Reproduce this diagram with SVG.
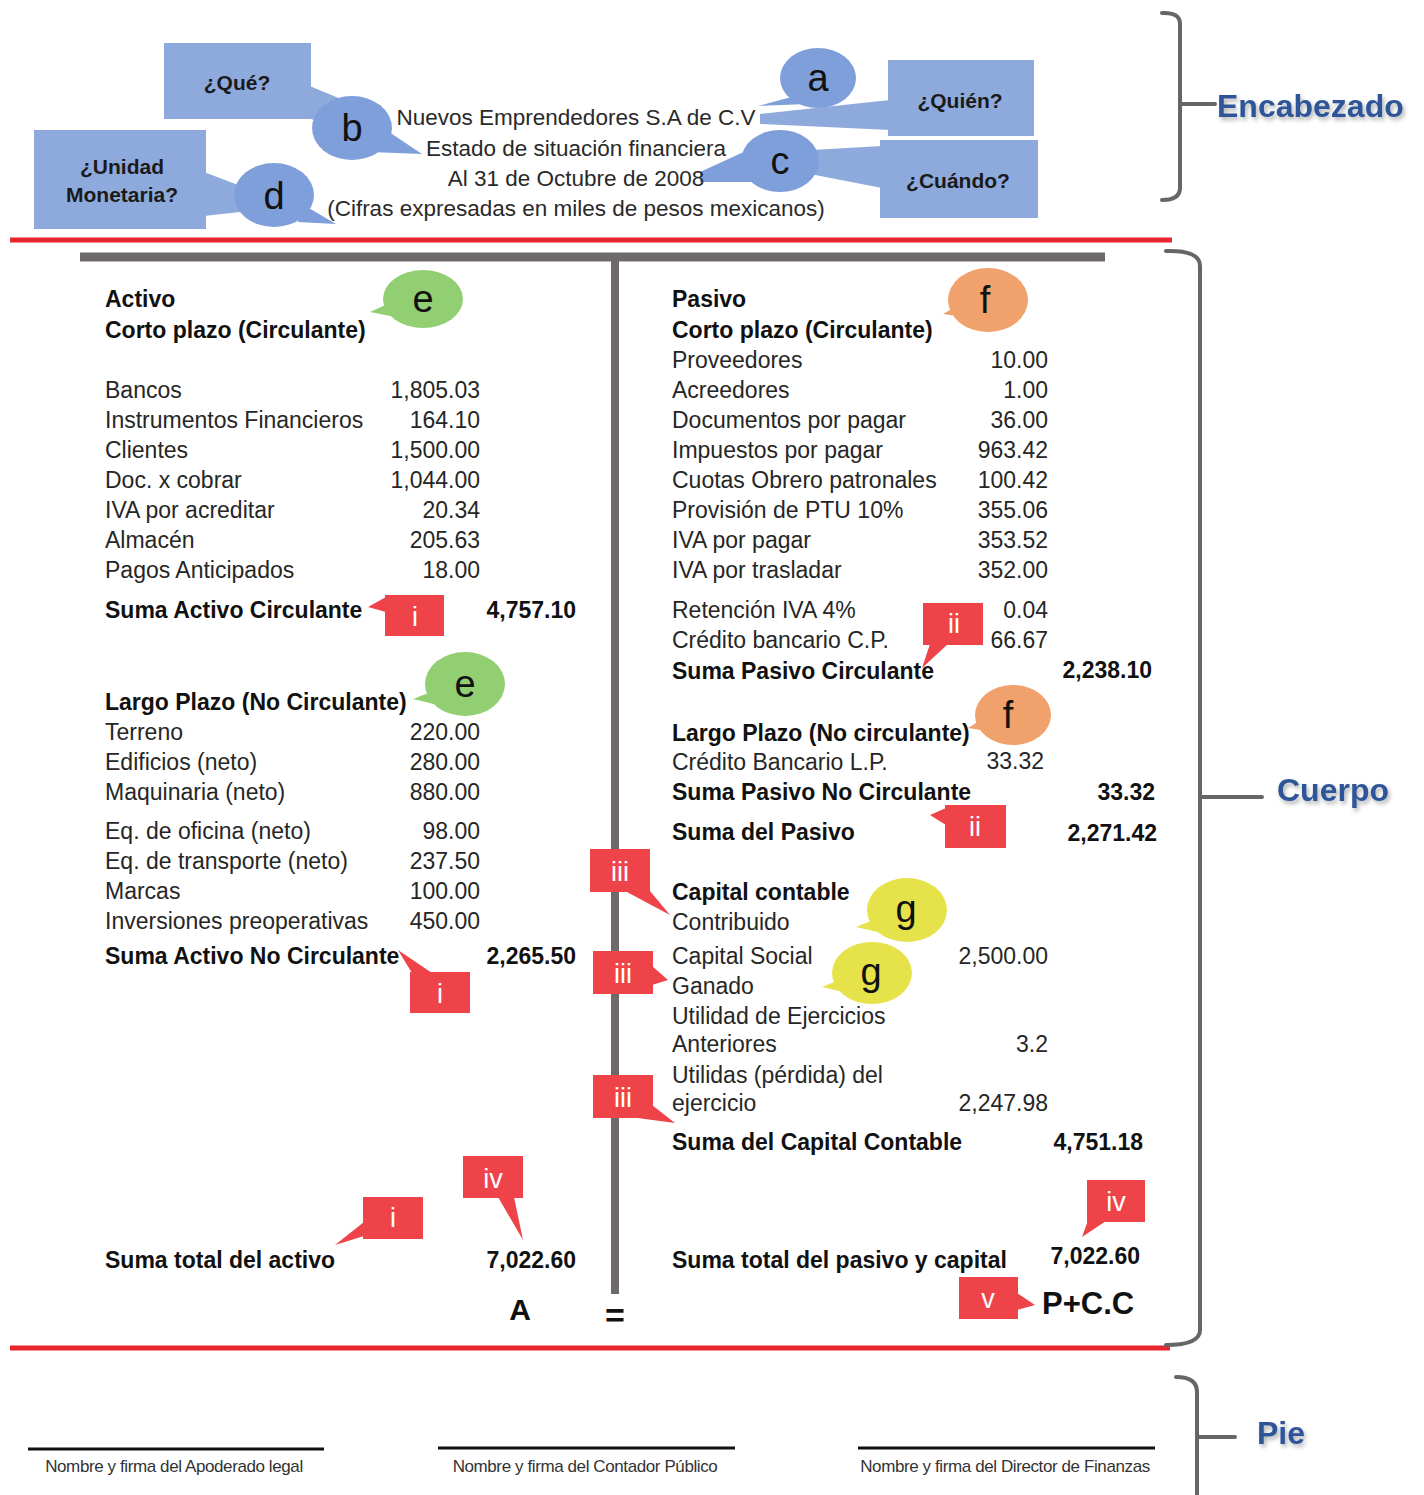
<svg xmlns="http://www.w3.org/2000/svg" width="1424" height="1495" viewBox="0 0 1424 1495">
<defs>
<style>
text{font-family:"Liberation Sans",Arial,sans-serif}
.t{font-size:23px;fill:#262626}
.b{font-weight:bold;fill:#111}
.r{text-anchor:end}
.m{text-anchor:middle}
.h{font-size:22.5px;fill:#2a2a2a;text-anchor:middle}
.qb{font-size:21px;font-weight:bold;fill:#1a1a1a;text-anchor:middle}
.box{fill:#8eaadc}
.bub{fill:#7f9fdb}
.let{font-size:38px;fill:#111;text-anchor:middle}
.red{fill:#ee4449}
.rl{font-size:27px;fill:#fff;text-anchor:middle}
.green{fill:#92cf72}
.orange{fill:#f0a16c}
.yellow{fill:#e6e24a}
.brace{fill:none;stroke:#666;stroke-width:4;stroke-linecap:round}
.sec{font-size:32px;font-weight:bold;fill:#2f5597}
.foot{font-size:17px;fill:#333;text-anchor:middle;letter-spacing:-0.4px}
</style>
<filter id="sh" x="-10%" y="-20%" width="130%" height="160%"><feDropShadow dx="2" dy="3" stdDeviation="2" flood-color="#000" flood-opacity="0.3"/></filter>
</defs>
<rect width="1424" height="1495" fill="#fff"/>

<!-- connectors / bands -->
<g id="connectors">
<polygon class="box" points="305,84 348,102 332,126 305,117"/>
<polygon class="box" points="204,172 246,188 240,212 204,216"/>
<polygon class="box" points="760,114 890,100 890,130 760,124"/>
<polygon class="box" points="812,150 882,146 882,188 810,174"/>
<polygon class="bub" points="748,150 700,172 700,182 752,182"/>
</g>

<!-- header -->
<g id="header-text">
<text class="h" x="576" y="125">Nuevos Emprendedores S.A de C.V</text>
<text class="h" x="576" y="156">Estado de situación financiera</text>
<text class="h" x="576" y="186">Al 31 de Octubre de 2008</text>
<text class="h" x="576" y="216">(Cifras expresadas en miles de pesos mexicanos)</text>
</g>
<g id="box-que"><rect class="box" x="164" y="43" width="147" height="76"/><text class="qb" x="237" y="90">¿Qué?</text></g>
<g id="box-unidad"><rect class="box" x="34" y="130" width="172" height="99"/><text class="qb" x="122" y="174">¿Unidad</text><text class="qb" x="122" y="202">Monetaria?</text></g>
<g id="box-quien"><rect class="box" x="888" y="60" width="146" height="76"/><text class="qb" x="960" y="108">¿Quién?</text></g>
<g id="box-cuando"><rect class="box" x="880" y="140" width="158" height="78"/><text class="qb" x="958" y="188">¿Cuándo?</text></g>
<g id="bubble-a"><polygon class="bub" points="795,96 758,106 808,104"/><ellipse class="bub" cx="818" cy="78" rx="38" ry="30"/><text class="let" x="818" y="91">a</text></g>
<g id="bubble-b"><polygon class="bub" points="380,126 422,154 370,152"/><ellipse class="bub" cx="352" cy="128" rx="40" ry="32"/><text class="let" x="352" y="141">b</text></g>
<g id="bubble-c"><ellipse class="bub" cx="780" cy="161" rx="39" ry="31"/><text class="let" x="780" y="174">c</text></g>
<g id="bubble-d"><polygon class="bub" points="302,204 336,224 298,222"/><ellipse class="bub" cx="274" cy="195" rx="40" ry="32"/><text class="let" x="274" y="209">d</text></g>

<!-- section lines and braces -->
<g id="rules">
<line x1="10" y1="240" x2="1172" y2="240" stroke="#e8262d" stroke-width="5"/>
<line x1="10" y1="1348" x2="1170" y2="1348" stroke="#e8262d" stroke-width="5"/>
<line x1="80" y1="257" x2="1105" y2="257" stroke="#6e6a6a" stroke-width="9"/>
<line x1="615" y1="257" x2="615" y2="1294" stroke="#6e6a6a" stroke-width="8"/>
</g>
<g id="brace-encabezado"><path class="brace" d="M1162,13 Q1180,12 1180,24 L1180,188 Q1180,200 1162,200 M1180,104 L1215,104"/><text class="sec" x="1217" y="117" filter="url(#sh)">Encabezado</text></g>
<g id="brace-cuerpo"><path class="brace" d="M1166,251 Q1200,250 1200,266 L1200,1330 Q1200,1345 1166,1345 M1200,797 L1262,797"/><text class="sec" x="1277" y="801" filter="url(#sh)">Cuerpo</text></g>
<g id="brace-pie"><path class="brace" d="M1176,1377 Q1197,1377 1197,1392 L1197,1495 M1197,1437 L1235,1437"/><text class="sec" x="1257" y="1444" filter="url(#sh)">Pie</text></g>

<!-- left column -->
<g id="activo">
<text class="t b" x="105" y="307">Activo</text>
<text class="t b" x="105" y="338">Corto plazo (Circulante)</text>
<text class="t" x="105" y="398">Bancos</text><text class="t r" x="480" y="398">1,805.03</text>
<text class="t" x="105" y="428">Instrumentos Financieros</text><text class="t r" x="480" y="428">164.10</text>
<text class="t" x="105" y="458">Clientes</text><text class="t r" x="480" y="458">1,500.00</text>
<text class="t" x="105" y="488">Doc. x cobrar</text><text class="t r" x="480" y="488">1,044.00</text>
<text class="t" x="105" y="518">IVA por acreditar</text><text class="t r" x="480" y="518">20.34</text>
<text class="t" x="105" y="548">Almacén</text><text class="t r" x="480" y="548">205.63</text>
<text class="t" x="105" y="578">Pagos Anticipados</text><text class="t r" x="480" y="578">18.00</text>
<text class="t b" x="105" y="618">Suma Activo Circulante</text><text class="t b r" x="576" y="618">4,757.10</text>
<text class="t b" x="105" y="710">Largo Plazo (No Circulante)</text>
<text class="t" x="105" y="740">Terreno</text><text class="t r" x="480" y="740">220.00</text>
<text class="t" x="105" y="770">Edificios (neto)</text><text class="t r" x="480" y="770">280.00</text>
<text class="t" x="105" y="800">Maquinaria (neto)</text><text class="t r" x="480" y="800">880.00</text>
<text class="t" x="105" y="839">Eq. de oficina (neto)</text><text class="t r" x="480" y="839">98.00</text>
<text class="t" x="105" y="869">Eq. de transporte (neto)</text><text class="t r" x="480" y="869">237.50</text>
<text class="t" x="105" y="899">Marcas</text><text class="t r" x="480" y="899">100.00</text>
<text class="t" x="105" y="929">Inversiones preoperativas</text><text class="t r" x="480" y="929">450.00</text>
<text class="t b" x="105" y="964">Suma Activo No Circulante</text><text class="t b r" x="576" y="964">2,265.50</text>
<text class="t b" x="105" y="1268">Suma total del activo</text><text class="t b r" x="576" y="1268">7,022.60</text>
<text class="b m" x="520" y="1320" font-size="30">A</text>
<text class="b m" x="615" y="1327" font-size="34">=</text>
</g>

<!-- right column -->
<g id="pasivo">
<text class="t b" x="672" y="307">Pasivo</text>
<text class="t b" x="672" y="338">Corto plazo (Circulante)</text>
<text class="t" x="672" y="368">Proveedores</text><text class="t r" x="1048" y="368">10.00</text>
<text class="t" x="672" y="398">Acreedores</text><text class="t r" x="1048" y="398">1.00</text>
<text class="t" x="672" y="428">Documentos por pagar</text><text class="t r" x="1048" y="428">36.00</text>
<text class="t" x="672" y="458">Impuestos por pagar</text><text class="t r" x="1048" y="458">963.42</text>
<text class="t" x="672" y="488">Cuotas Obrero patronales</text><text class="t r" x="1048" y="488">100.42</text>
<text class="t" x="672" y="518">Provisión de PTU  10%</text><text class="t r" x="1048" y="518">355.06</text>
<text class="t" x="672" y="548">IVA por pagar</text><text class="t r" x="1048" y="548">353.52</text>
<text class="t" x="672" y="578">IVA por trasladar</text><text class="t r" x="1048" y="578">352.00</text>
<text class="t" x="672" y="618">Retención IVA 4%</text><text class="t r" x="1048" y="618">0.04</text>
<text class="t" x="672" y="648">Crédito bancario C.P.</text><text class="t r" x="1048" y="648">66.67</text>
<text class="t b" x="672" y="679">Suma Pasivo Circulante</text><text class="t b r" x="1152" y="678" font-size="22">2,238.10</text>
<text class="t b" x="672" y="741">Largo Plazo (No circulante)</text>
<text class="t" x="672" y="770">Crédito Bancario L.P.</text><text class="t r" x="1044" y="769" font-size="22">33.32</text>
<text class="t b" x="672" y="800">Suma Pasivo No Circulante</text><text class="t b r" x="1155" y="800" font-size="22">33.32</text>
<text class="t b" x="672" y="840">Suma del Pasivo</text><text class="t b r" x="1157" y="841" font-size="22">2,271.42</text>
</g>
<g id="capital">
<text class="t b" x="672" y="900">Capital contable</text>
<text class="t" x="672" y="930">Contribuido</text>
<text class="t" x="672" y="964">Capital Social</text><text class="t r" x="1048" y="964">2,500.00</text>
<text class="t" x="672" y="994">Ganado</text>
<text class="t" x="672" y="1024">Utilidad de Ejercicios</text>
<text class="t" x="672" y="1052">Anteriores</text><text class="t r" x="1048" y="1052">3.2</text>
<text class="t" x="672" y="1083">Utilidas (pérdida) del</text>
<text class="t" x="672" y="1111">ejercicio</text><text class="t r" x="1048" y="1111">2,247.98</text>
<text class="t b" x="672" y="1150">Suma del Capital Contable</text><text class="t b r" x="1143" y="1150" font-size="22">4,751.18</text>
<text class="t b" x="672" y="1268">Suma total del pasivo y capital</text><text class="t b r" x="1140" y="1264" font-size="22">7,022.60</text>
<text class="b" x="1042" y="1314" font-size="31">P+C.C</text>
</g>

<!-- colored bubbles -->
<g id="bubble-e1"><polygon class="green" points="392,302 370,312 400,318"/><ellipse class="green" cx="423" cy="299" rx="40" ry="29"/><text class="let" x="423" y="312">e</text></g>
<g id="bubble-e2"><polygon class="green" points="436,690 413,699 442,706"/><ellipse class="green" cx="465" cy="684" rx="40" ry="32"/><text class="let" x="465" y="697">e</text></g>
<g id="bubble-f1"><polygon class="orange" points="960,304 943,314 970,318"/><ellipse class="orange" cx="988" cy="300" rx="40" ry="32"/><text class="let" x="985" y="313">f</text></g>
<g id="bubble-f2"><polygon class="orange" points="984,718 968,728 994,732"/><ellipse class="orange" cx="1013" cy="715" rx="38" ry="30"/><text class="let" x="1008" y="728">f</text></g>
<g id="bubble-g1"><polygon class="yellow" points="878,918 856,927 886,934"/><ellipse class="yellow" cx="907" cy="910" rx="40" ry="32"/><text class="let" x="906" y="922">g</text></g>
<g id="bubble-g2"><polygon class="yellow" points="844,978 822,987 852,994"/><ellipse class="yellow" cx="872" cy="973" rx="40" ry="31"/><text class="let" x="871" y="985">g</text></g>

<!-- red labels -->
<g id="tag-i1"><polygon class="red" points="386,597 368,607 386,612"/><rect class="red" x="385" y="595" width="59" height="41"/><text class="rl" x="415" y="626">i</text></g>
<g id="tag-ii1"><polygon class="red" points="930,644 922,668 948,644"/><rect class="red" x="923" y="603" width="60" height="42"/><text class="rl" x="954" y="633">ii</text></g>
<g id="tag-ii2"><polygon class="red" points="946,808 930,815 946,825"/><rect class="red" x="945" y="805" width="61" height="43"/><text class="rl" x="975" y="836">ii</text></g>
<g id="tag-i2"><polygon class="red" points="412,973 398,950 432,973"/><rect class="red" x="410" y="972" width="60" height="41"/><text class="rl" x="440" y="1003">i</text></g>
<g id="tag-iii1"><polygon class="red" points="625,891 670,915 650,891"/><rect class="red" x="590" y="849" width="60" height="43"/><text class="rl" x="620" y="881">iii</text></g>
<g id="tag-iii2"><polygon class="red" points="652,966 668,980 652,985"/><rect class="red" x="593" y="951" width="60" height="43"/><text class="rl" x="623" y="983">iii</text></g>
<g id="tag-iii3"><polygon class="red" points="630,1117 675,1123 652,1105"/><rect class="red" x="593" y="1075" width="60" height="43"/><text class="rl" x="623" y="1107">iii</text></g>
<g id="tag-i3"><polygon class="red" points="364,1222 335,1245 364,1236"/><rect class="red" x="363" y="1197" width="60" height="42"/><text class="rl" x="393" y="1227">i</text></g>
<g id="tag-iv1"><polygon class="red" points="498,1197 523,1240 514,1197"/><rect class="red" x="463" y="1156" width="60" height="42"/><text class="rl" x="493" y="1188">iv</text></g>
<g id="tag-iv2"><polygon class="red" points="1090,1215 1082,1237 1106,1221"/><rect class="red" x="1087" y="1180" width="58" height="42"/><text class="rl" x="1116" y="1211">iv</text></g>
<g id="tag-v"><polygon class="red" points="1017,1293 1035,1305 1017,1310"/><rect class="red" x="959" y="1277" width="59" height="42"/><text class="rl" x="988" y="1308">v</text></g>

<!-- footer -->
<g id="footer">
<line x1="28" y1="1449" x2="324" y2="1449" stroke="#111" stroke-width="3"/>
<line x1="438" y1="1448" x2="735" y2="1448" stroke="#111" stroke-width="3"/>
<line x1="858" y1="1448" x2="1155" y2="1448" stroke="#111" stroke-width="3"/>
<text class="foot" x="174" y="1472">Nombre y firma del Apoderado legal</text>
<text class="foot" x="585" y="1472">Nombre y firma del Contador Público</text>
<text class="foot" x="1005" y="1472">Nombre y firma del Director  de Finanzas</text>
</g>
</svg>
